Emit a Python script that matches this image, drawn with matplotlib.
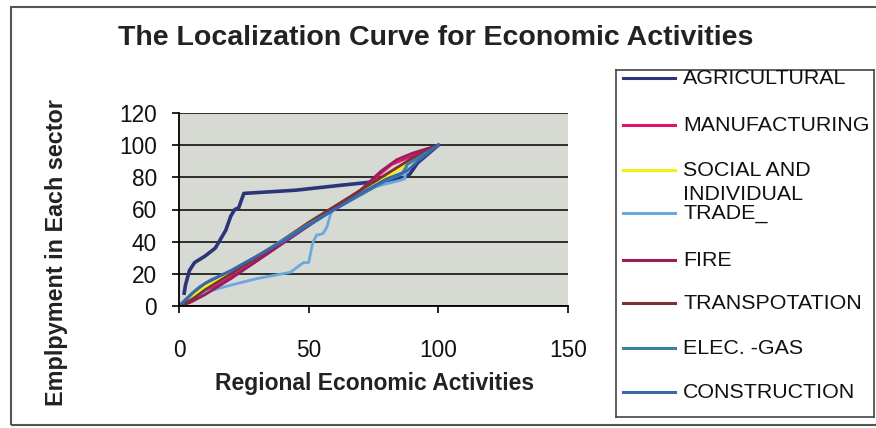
import matplotlib.pyplot as plt
from matplotlib.patches import Rectangle
from matplotlib.lines import Line2D

plt.rcParams['font.family'] = ['Liberation Sans', 'DejaVu Sans']

# cumulative % of regional activities (x) vs cumulative % of sector employment (y)
agri_x = [2, 2.5, 4, 6, 10, 14, 18, 20, 21.5, 23, 25, 45, 62, 80, 87, 89, 92, 100]
agri_y = [8, 13, 22, 27, 31, 36, 47, 56, 60, 61, 70, 72, 75, 78, 80, 82, 89, 100]

manu_x = [0, 5, 10, 20, 30, 40, 50, 60, 70, 76, 82, 88, 94, 100]
manu_y = [0, 3, 8, 18, 28, 39, 50, 61, 72, 80, 88, 92, 96, 100]

social_x = [0, 10, 15, 20, 30, 40, 50, 60, 70, 80, 90, 100]
social_y = [0, 12, 16, 21, 31, 41, 52, 61, 70, 80, 90, 100]

trade_x = [0, 9, 20, 30, 43, 48, 50, 51.5, 53, 55.5, 57, 59, 65, 75, 85, 87, 88, 92, 100]
trade_y = [0, 8, 13, 17, 21, 27, 27, 39, 44, 45, 49, 60, 65, 74, 78, 79, 88, 92, 100]

fire_x = [0, 4, 10, 20, 30, 40, 50, 60, 70, 78, 84, 90, 100]
fire_y = [0, 2, 7, 17, 28, 39, 50, 61, 72, 84, 91, 95, 100]

trans_x = [0, 5, 10, 20, 30, 40, 50, 60, 70, 80, 90, 100]
trans_y = [0, 4, 10, 20, 30, 41, 52, 62, 72, 82, 92, 100]

elec_x = [0, 5, 8, 12, 20, 30, 40, 50, 60, 70, 80, 86, 88, 92, 100]
elec_y = [0, 8, 12, 16, 22, 31, 41, 51, 60, 69, 78, 82, 88, 92, 100]

cons_x = [0, 6, 10, 20, 30, 40, 50, 60, 70, 80, 88, 92, 100]
cons_y = [0, 9, 14, 22, 31, 40, 50, 60, 70, 79, 84, 90, 100]

series = [
    ('AGRICULTURAL', agri_x, agri_y, '#2b3577', 2.6),
    ('MANUFACTURING', manu_x, manu_y, '#e0146e', 2.0),
    ('SOCIAL AND\nINDIVIDUAL', social_x, social_y, '#f5ee10', 2.0),
    ('TRADE_', trade_x, trade_y, '#69a9e0', 2.0),
    ('FIRE', fire_x, fire_y, '#9c1c62', 2.0),
    ('TRANSPOTATION', trans_x, trans_y, '#7d3232', 2.0),
    ('ELEC. -GAS', elec_x, elec_y, '#3c7fa3', 2.0),
    ('CONSTRUCTION', cons_x, cons_y, '#3a66ad', 2.0),
]

x_ticks = [0, 50, 100, 150]
y_ticks = [0, 20, 40, 60, 80, 100, 120]

fig = plt.figure(figsize=(8.76, 4.28), dpi=100)

# outer chart frame
fig.add_artist(Rectangle((11 / 876, 3 / 428), 1.0, 418 / 428, transform=fig.transFigure,
                         fill=False, edgecolor='#555555', lw=1.5))

ax = fig.add_axes([179 / 876, 1 - 306 / 428, 389 / 876, 193 / 428])
ax.set_facecolor('#d7dad2')
for name, xs, ys, color, lw in series:
    ax.plot(xs, ys, color=color, lw=lw, label=name)

ax.set_xlim(0, 150)
ax.set_ylim(0, 120)
ax.set_xticks(x_ticks)
ax.set_yticks(y_ticks)
ax.yaxis.grid(True, color='black', lw=1.1)
ax.set_axisbelow(True)
ax.tick_params(axis='both', labelsize=16.3, length=5, width=1.2, direction='out',
               labelcolor='#111111')
ax.tick_params(axis='x', pad=19)
ax.tick_params(axis='y', pad=11)
for side in ('top', 'right'):
    ax.spines[side].set_visible(False)
for side in ('left', 'bottom'):
    ax.spines[side].set_linewidth(1.3)

fig.text(0.497, 0.912, 'The Localization Curve for Economic Activities',
         ha='center', va='center', fontsize=20.5, fontweight='bold', color='#222222')
fig.text(0.428, 0.104, 'Regional Economic Activities', ha='center', va='center',
         fontsize=16.5, fontweight='bold', color='#222222')
fig.text(0.064, 0.41, 'Emplpyment in Each sector', ha='center', va='center',
         rotation=90, fontsize=16.8, fontweight='bold', color='#222222')

# legend panel
leg = fig.add_axes([616 / 876, 1 - 417 / 428, 258 / 876, 347 / 428])
leg.set_xlim(0, 258)
leg.set_ylim(347, 0)
leg.set_xticks([])
leg.set_yticks([])
for sp in leg.spines.values():
    sp.set_color('#444444')
    sp.set_linewidth(1.2)

row_y = [8, 55, 100, 143, 190, 233, 278, 322]
for (name, xs, ys, color, lw), yy in zip(series, row_y):
    leg.add_line(Line2D([7, 59], [yy, yy], color=color, lw=2.2))
    leg.text(67, yy, name.split('\n')[0], va='center', ha='left', fontsize=15.4, color='#111111')
    if '\n' in name:
        leg.text(67, yy + 24, name.split('\n')[1], va='center', ha='left',
                 fontsize=15.4, color='#111111')

fig.savefig('out.png', dpi=100)
